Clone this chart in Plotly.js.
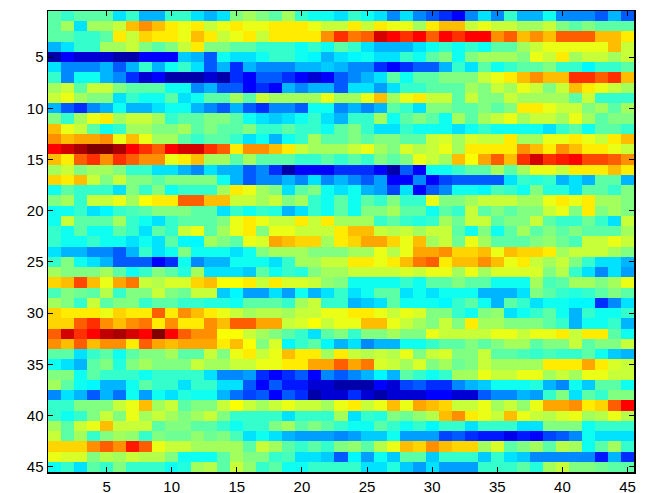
<!DOCTYPE html>
<html><head><meta charset="utf-8">
<script src="https://cdn.plot.ly/plotly-3.0.1.min.js"></script>
<style>html,body{margin:0;padding:0;background:#fff}</style></head>
<body><div id="chart" style="width:645px;height:493px"></div>
<script>
const row01=[11,10,11,11,11,8,10,7,7,10,10,8,7,8,12,13,12,11,13,10,9,9,8,10,9,8,6,8,6,5,4,3,6,8,6,10,7,7,9,6,6,6,5,7,5];
const row02=[11,13,8,13,13,14,17,18,17,16,15,16,14,15,16,15,15,16,16,16,15,14,14,16,14,16,15,15,13,16,17,17,14,15,14,14,13,13,14,12,11,12,11,11,11];
const row03=[11,11,10,10,11,16,14,16.5,16,16,15,17,16,14,15,16,14,16,16,16,16,18,20,18.5,19,22,21,20,21,19,21,20,21,21,18,19,17,18,17,19,19,19,17,17,16];
const row04=[7,8,10,10,13,13,14,12,11,12,14,16,12,12,11,11,10,10,10,9,10,9,11,10,8,7,7,7,8,9,10,9,10,9,11,11,13,14,15,15,15,15,15,17,14];
const row05=[1,3,2,2,2,1,1,3,3,3,7.5,7,5,9,8,8,9,10,10,9,8.5,7,8,8.5,9,8,8,10,9,11,12,9,12,13,13,13,12,15,14,16,13,14,14,13,14];
const row06=[8,6,6,6,7,5,7,10,7,9,10,8,5,7,4,7,6,6,6,7,7,7.5,7,6,6,4,3,4,5,5,7,10,8,11,9,10,11,11,12,10,10,8.5,10,10,11];
const row07=[10,6,9,9,7,6,4,2,3,1,1,1,2,1,4,3,5,5,4,3,2,3,5,6,7,8,11,9,11,11,12,12,12,14,15,16,17,18,17,17,20,20,19,20,17];
const row08=[13,14,11,14,14,12,11,11,11,9,9,6,7,5,5,3,4,3,7,6,7,7,5,8,8,6.5,8,10,10,11,11,11,13,12,14,13,15,14,12,14,17,16,15,14,13];
const row09=[14,15,13,12,12,8,10,9,9,11,8,9,11,11,13,11,14,13,13,13,13,15,13,13,15,17,13,15,16,14,14,11,14,12,12,14,13,13,13,13,11,14,10,10,10];
const row10=[7,5,4,6,7,9,7,7,8,9,9,7,6,5,7,5,4,6,6,5,9,9,6,7,6,7,11,10,8,12,12,11,11,12,11,12,16,16,15,14,14,12,13,11,13];
const row11=[12,10,13,15,16,13,14,14,13,10,11,11,12,12,11,9,8,7.5,8,9,10,8,7,10,10,13,9,11,12,11,9,13,11,13,14,15,13,14,14,13,15,13,11,12,12];
const row12=[17,15,14,11,9,10,13,13,12,12,13,11,12,11,11,12,10,10,11,10,10,9,11,12,10,8,8,10,9,9,9,8,9,10,9,9,9,9,8,10,11,9,11,11,10];
const row13=[18,17,17.5,17.5,18,15,17,15,13,13,11,10,11,11,10,8,9,7,9,10,13,11,11,12,11,12,12,11,11,14,14.5,13,14.5,14,14,16,13,13,15,15,16,15,14,16,17];
const row14=[21,22,23,24,24,23,21,20,19,21,22,22,20,19,16,18,18,17,16,14,13,13,13,14,15,13,12,14.5,13.5,14,15,13,16,16,16,16,18,17,16,18,17,16,16,15,14];
const row15=[17,16,19,20,18,20,19,18,18,15,16,17,13,13,11,13,11,11,11,10,10,11,10,11,10,12,11,12,15,14,13,17,15.5,17.5,19,17,20,22,20,20.5,21,19.5,19.5,19,18];
const row16=[13,14,12,13,13,12,10,10,8,8,7,6,8,7,7,5,6,4,1,3,3,3,4,4,4,3,1,5,3,9,9,10,11,11,13,11,13,15,15,14,16,16,16,17,16];
const row17=[16.5,16,17,14,12,14,12,12,11,12,12,12,12,9,7,5,6,6,7,6,8,6,7,6,5,6.5,3,3,6,3,4.5,5,5,5,5,8,10,9.5,10,7,8,7,11,11,7];
const row18=[9,11,10,10,10,8,12,10,12,9,10,10,10,13,16,15,13,12,8,11,12,9,8,9,7,6.5,4.5,8,3,5,6,9,9,8.5,10.5,10,9,12,9.5,9.5,8,11,11,10,12];
const row19=[12,13,10,14,14,15,13,15.5,16,16,19,19,17,17,14,14,13,14,12,13,10,9,11,9,11,10,12,10,10,15,12,12,13,14,14,14,13,13,15,16,15,16,13,13,12];
const row20=[9,9,10,8,8.5,10,10.5,11,12,12,12,11,11,8,10,9,10,9.5,7,8,10,9,11,9,12,12,13,11,11,9,11,10,14,11,12,11,12,12,14,15,12,16,12,13,12];
const row21=[9,14,11,11,11,13,10,9,8,10,11,11,11,12,15,16,15,14,14,16,14,16,13,13,13,10,11,10,9.5,10,13,11.5,14,14,11,12,12,14,11,10,10,11.5,10,8,14];
const row22=[10,9,11,9,9,11,10,8,11,10,14,15,11,13,15,16,12,15,15,14,14,14,16,17,17,14,13.5,14,13,14,14,11,9,12,9,11,13,11,12,11,12,11,11,11,13];
const row23=[10,9,9,10,9,9,8,9,8,11,8.5,8.5,13,12,11,15,14.5,17.5,17,16.5,16.5,13,16,16.5,17.5,17.5,16.5,15,17,13,14,11.5,15,13,11,11,11,12,12.5,11.5,10.5,14,14,15,14];
const row24=[8,7,7,6,6,5,7,10,8,9,12,9,9,9,8,9,12,13,13,13,12,12,12,13,13,15,13.5,15,17.5,17.5,18,16.5,16.5,17,15,17,16.5,16.5,16,13,14,14,14,13,12];
const row25=[10,12,9,8,7,5,5,5,3,4,9,6,7,7,9,9,9,8,10,13,13,14,14,16,16,15,16,17,18.5,19,16,17,17,18,17,15,16,14,13,14,12,10,8,8,7];
const row26=[13,12,12,12,13,11,9,10,12,11,9.5,13,8,8,8,7.5,11,9,10,9.5,12,13,13,14,14,14,14,14.5,14,15,15,13,15,13,14.5,14.5,14.5,14.5,12,13.5,10,8,6,8,6.5];
const row27=[16.5,17,19.5,17,15,17.5,18.5,14,13.5,14.5,14.5,16.5,17,15.5,15.5,16,14,16,14.5,14.5,14,12.5,12,9,9,9,9,10,9,11,11,12,11,11,9,9,9,13,10.5,11,13,13,12,13,15];
const row28=[10.5,12,11.5,11,13.5,10,12,12,14,12,11.5,14,14,7.5,8.5,6.5,6.5,8,6.5,9,7,8,10,8,9,11,11,8,9,8,9,9,9,7,7,7,8,12,11,10,9.5,10,11,12,11];
const row29=[13,12,10,14,11,12,12,10,11,11,10,10,9.5,9.5,9,11,11,11,10,13,14,10,10,7,7.5,8,11,9,9,9,8.5,10,11,9,7,11,10,8,9,9,8.5,8.5,4,6,8];
const row30=[16.5,16,16,16,15,16.5,16,16,19,16,18,17,16,15,14,13,13.5,13.5,13,14,14,15,15,16,16,15,14,15,14.5,12,12,10,9,12,12.5,8,9,10,11,9,7,10,9,9,10];
const row31=[16.5,16.5,19,20,18,17,18,18.5,16,18,16,16,18,17,19,19,17.5,17.5,14,14.5,15.5,14,15,15,17,17,15,14,13,12,14,12,16,13,13,12,12,12,11,10,7,9,9,10,7];
const row32=[19,22,20,21,22.5,23,22,21,24,21,19,18,18,15.5,15.5,14,13,12,11,10,8,11,12,10,12,12,13,12,12,15,14,14,14,14,15,15,14,15,15,16,14,16,16,11,9];
const row33=[18,17,19,17,18,18,16,19,17.5,17,17.5,17.5,17.5,16,17,15.5,12,14.5,8.5,10,11,8.5,7,8,6,7,7,9,9,10,11,11,12,11,12,13,13,11,12,12,14,11,12,12,14];
const row34=[11,11,8,10,11,9,11,12,12,13,11,11,14,12,15,16,14,15,17,16,16,13,16,14,13.5,14,13.5,15,12,14,14.5,12,12,14,11,11,10.5,10,10.5,10,10,11,9,7.5,7];
const row35=[9,8,7,11,12,9.5,12,13,12,12,12,14,13,13,14,14,15,15,16,16,17.5,17.5,19,17.5,18.5,14.5,14,13,14.5,12,13,11.5,12,14,13,13,13,13,16,16,16,17.5,16,14.5,14];
const row36=[12,12,9,11,10,10,10,9,10,10,10,10,8,6,6,6.5,4,3,4,5,3,6,5,6,7,8.5,7,11,10,9,10,13,13,15,14,14,15,15,13,14,13,15,15,14,14];
const row37=[13,11,9,8.5,7,7,9,11,10,10,8,10,10,8,8,5,3,5,3.5,3.5,2,2,1,1,1,3,2,4.5,5,4,4,6,7,7.5,9,9,9,9.5,7,6,9,7.5,11,11,9];
const row38=[6,8,7,5,7,5.5,9,6.5,9,8,9.5,9,9,7,5.5,4.5,5,3,5,4,1,2,2,4,2,1,2,2,2,3,3,2,2,5,6,6,7,6.5,10,12,8,11,10,12,12];
const row39=[10,10,12,12,12,14,15,17,13,14,11,12,12,14,15.5,14,13,14,15,14,14,13,15,16,14,15,17,15,17.5,17,16.5,14,14,15,13,14,12.5,15,17.5,17.5,18,16,16.5,19,21];
const row40=[10,9,10,12,14,12,15,13,14,13,12,13,14,12,10,10,10,10,8,10,10,10,13,8,10,9.5,12,11.5,12.5,13.5,17,18,16,15,14,17,15,14,13.5,14.5,15,13,13.5,15,13.5];
const row41=[13,11,14,15,17,14,14,14,11,12,12,11,11,10,9,10,10,12,13,11,12,11,10,9,9,11,10,9,10,8.5,10,10,8,10,10,10,8,8,12,12,12,9,10,10,10];
const row42=[14,11,13,10,12,13,12.5,10,12,11.5,11.5,12.5,11.5,12,10.5,8,9,8,7,6.5,6.5,6.5,6,6.5,7.5,7.5,9,6.5,6.5,6.5,4.5,5,4,3.5,3.5,2.5,3.5,3,4.5,5,6,9,8,8,8];
const row43=[16.5,16.5,16.5,18,19,18,20.5,19,15,14,14,13,13,13,13,11,14,13,11,10,11,10,12,12.5,11,13.5,15,17,16.5,18,17,16.5,16.5,13,14.5,11,12,13,11,13.5,13,9,11,13,10];
const row44=[15,14.5,14.5,12,13.5,13,14,13.5,13.5,12,9,9,9,11,13,12,12,10,10.5,8,8,7.5,5,8.5,6.5,9,7.5,11,11,7.5,10,10,10,7.5,10,8,7.5,6,6,6,6,6,3.5,7,4];
const row45=[9,10,8,11,10,12,10,10,10,9,9.5,13,13.5,11,14,12.5,10,11,9,9,10,10,10,10,8,8,9.5,7.5,6.5,8,6.5,6.5,6.5,10,10,10,11,9.5,13,14,12,12,11.5,11,11];

const rows=[row01,row02,row03,row04,row05,row06,row07,row08,row09,row10,row11,row12,row13,row14,row15,
row16,row17,row18,row19,row20,row21,row22,row23,row24,row25,row26,row27,row28,row29,row30,
row31,row32,row33,row34,row35,row36,row37,row38,row39,row40,row41,row42,row43,row44,row45];
const columns=rows[0].map((_,i)=>i+1);
const rowNumbers=rows.map((_,i)=>i+1);
const xTicks=[5,10,15,20,25,30,35,40,45];
const yTicks=[5,10,15,20,25,30,35,40,45];
const jet=[[0,'#000080'],[0.125,'#0000ff'],[0.36,'#00ffff'],[0.5,'#80ff80'],[0.65,'#ffff00'],[0.875,'#ff0000'],[1,'#800000']];

const axisStyle={showgrid:false,zeroline:false,showline:true,mirror:'ticks',linecolor:'#000',linewidth:1.5,
  ticks:'inside',ticklen:5,tickwidth:1,tickcolor:'#000',tickmode:'array',
  tickfont:{family:'"Liberation Sans",Arial,sans-serif',size:15,color:'#000'}};
Plotly.newPlot('chart',[{type:'heatmap',x:columns,y:rowNumbers,z:rows,zmin:0,zmax:24,zsmooth:false,
  colorscale:jet,showscale:false}],{
  width:645,height:493,paper_bgcolor:'#fff',plot_bgcolor:'#fff',
  margin:{l:48,r:11,t:11,b:21,pad:0},
  xaxis:Object.assign({},axisStyle,{range:[0.5,45.5],tickvals:xTicks,ticktext:xTicks.map(String)}),
  yaxis:Object.assign({},axisStyle,{range:[45.5,0.5],tickvals:yTicks,ticktext:yTicks.map(String)})
},{displayModeBar:false,staticPlot:true});
</script></body></html>
